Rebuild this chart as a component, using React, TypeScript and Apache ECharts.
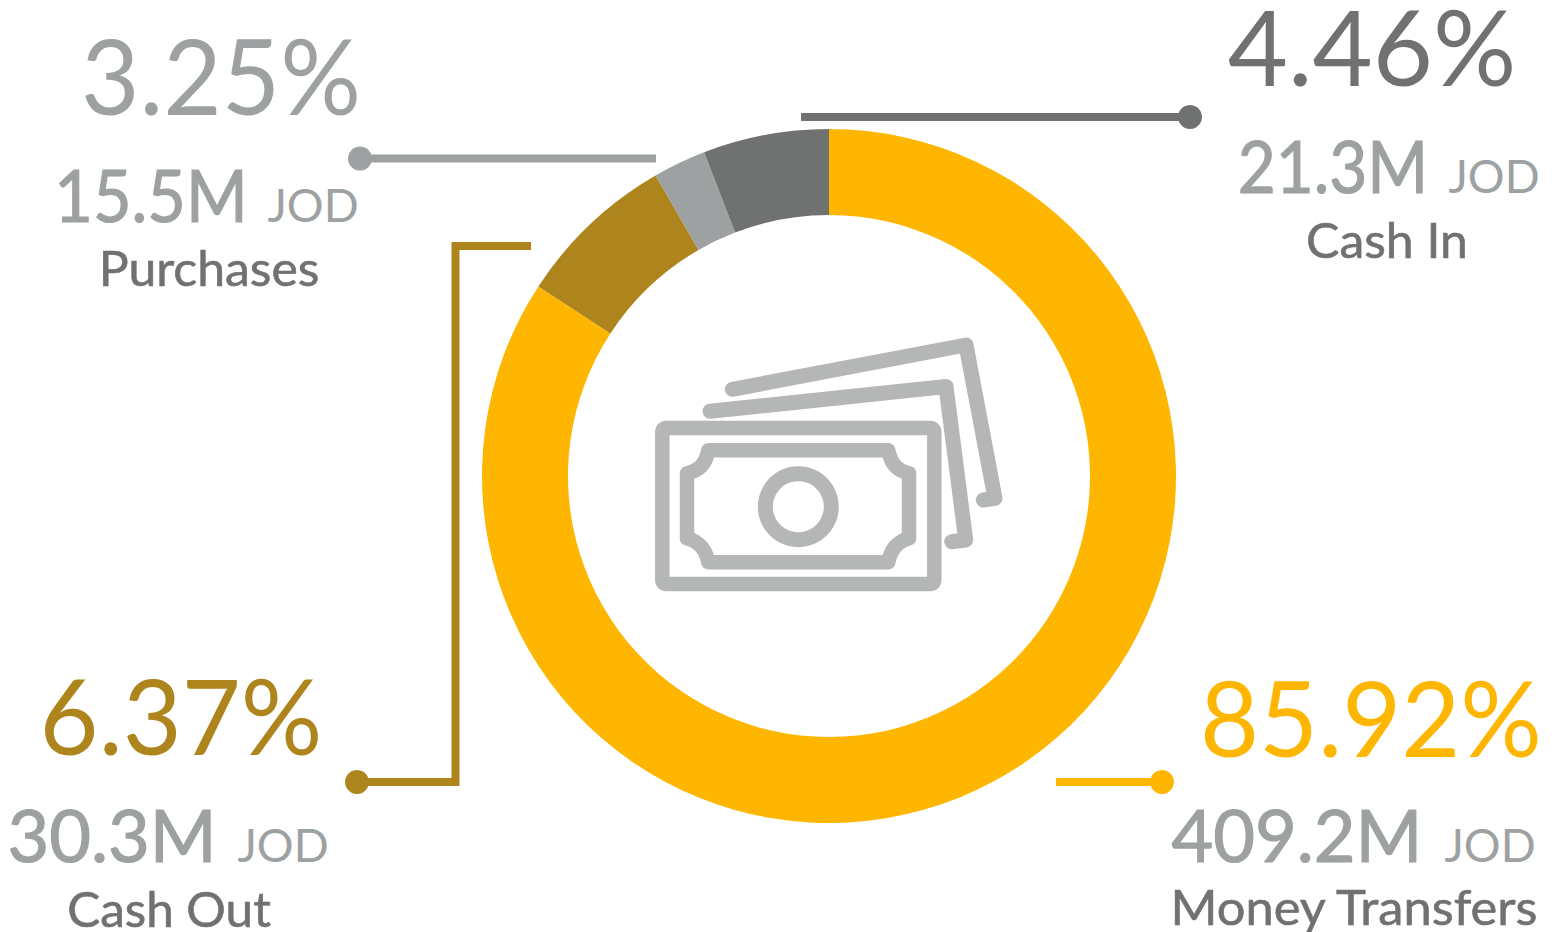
import React, { useEffect, useRef } from "react";
import * as echarts from "echarts";

const categories = ["Money Transfers", "Cash Out", "Purchases", "Cash In"];
const sliceValues = [84.2, 7.47, 2.47, 5.86];
const percentLabels = ["85.92%", "6.37%", "3.25%", "4.46%"];
const amountLabels = ["409.2M", "30.3M", "15.5M", "21.3M"];
const colors = ["#FFB600", "#AE841D", "#9DA1A2", "#707271"];
const AMOUNT = "#9DA1A2";
const NAME = "#707271";
const ICON = "#B5B7B6";
const FONT = "Lato";

// [percent centre x, percent baseline, amount centre x, JOD centre x, amount baseline, name centre x, name baseline]
const textPos = [
  [1371, 757, 1297, 1490, 862, 1354, 925],
  [181, 755, 112, 283, 862, 169, 927],
  [221, 115, 151, 313, 222, 209, 286],
  [1372, 86, 1333, 1494, 193, 1387, 258],
];
// horizontal fit of each text: percent, amount, name
const textFit = [
  [0.97, 1.0, 1.055],
  [0.97, 1.0, 1.03],
  [0.96, 0.925, 1.04],
  [0.99, 0.91, 1.04],
];
const leaders: number[][][] = [
  [[1056, 782], [1162, 782]],
  [[531, 246], [455.5, 246], [455.5, 782], [357, 782]],
  [[656, 158.5], [360, 158.5]],
  [[801, 117], [1190, 117]],
];

function txt(text: string, x: number, base: number, size: number, fill: string, scaleX = 1, thicken = 0) {
  return {
    type: "text", x, y: base - size * 0.885, scaleX, silent: true,
    style: {
      text, fill, font: `400 ${size}px ${FONT}`, textAlign: "center", textVerticalAlign: "top", verticalAlign: "top",
      stroke: thicken ? fill : undefined, lineWidth: thicken,
    },
  };
}

export default function App() {
  const ref = useRef<HTMLDivElement>(null);
  useEffect(() => {
    document.body.style.margin = "0";
    const d = "M708.3,450.3 L888.3,450.3 Q891.7,470 909,473.3 L909,538.3 Q891.7,543.3 888.3,562.3 L708.3,562.3 Q705,543.3 687,538.3 L687,473.3 Q705,470 708.3,450.3 Z";
    echarts.graphic.registerShape("billFrame", echarts.graphic.extendPath(d, {}) as any);
    const chart = echarts.init(ref.current!, null, { renderer: "svg" });
    const icoLine = { stroke: ICON, lineWidth: 15, fill: "none", lineCap: "round", lineJoin: "round" };
    const elements: any[] = [];
    categories.forEach((name, i) => {
      const p = textPos[i];
      const f = textFit[i];
      elements.push(txt(percentLabels[i], p[0], p[1], 105, colors[i], f[0]));
      elements.push(txt(amountLabels[i], p[2], p[4], 72, AMOUNT, f[1], 1.2));
      elements.push(txt("JOD", p[3], p[4], 46, AMOUNT));
      elements.push(txt(name, p[5], p[6], 48, NAME, f[2], 0.6));
      const pts = leaders[i];
      elements.push({ type: "polyline", shape: { points: pts }, style: { stroke: colors[i], lineWidth: 8, fill: "none" } });
      const end = pts[pts.length - 1];
      elements.push({ type: "circle", shape: { cx: end[0], cy: end[1], r: 12 }, style: { fill: colors[i] } });
    });
    elements.push(
      { type: "rect", shape: { x: 662.3, y: 428, width: 272, height: 156, r: 4 }, style: { ...icoLine, lineWidth: 14.5 } },
      { type: "billFrame", style: { ...icoLine, lineWidth: 14.5 } },
      { type: "ring", shape: { cx: 798.3, cy: 506.7, r: 40.5, r0: 25.5 }, style: { fill: ICON } },
      { type: "polyline", shape: { points: [[710, 411.3], [946, 386.5], [965.7, 540], [951.7, 541.7]] }, style: icoLine },
      { type: "polyline", shape: { points: [[732.3, 389.3], [966, 345], [995, 498.3], [983.3, 500]] }, style: icoLine },
    );
    chart.setOption({
      animation: false,
      series: [{
        type: "pie",
        center: [829, 476],
        radius: [261, 347],
        startAngle: 90,
        clockwise: true,
        silent: true,
        label: { show: false },
        labelLine: { show: false },
        data: categories.map((name, i) => ({ name, value: sliceValues[i], itemStyle: { color: colors[i] } })),
      }],
      graphic: { elements },
    });
    return () => chart.dispose();
  }, []);
  return <div ref={ref} style={{ width: 1552, height: 932 }} />;
}
